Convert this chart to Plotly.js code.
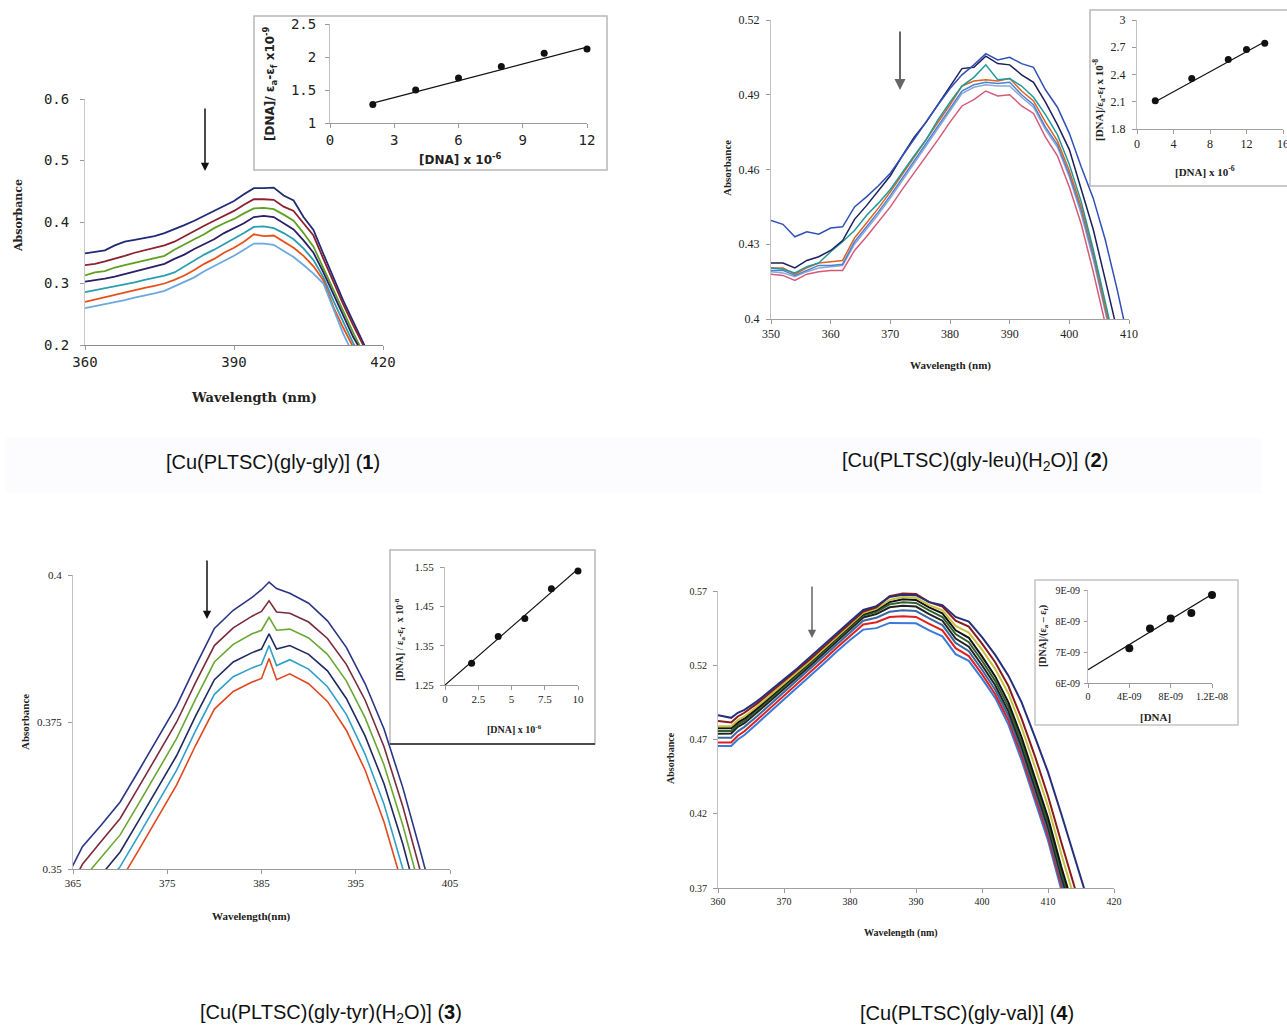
<!DOCTYPE html>
<html><head><meta charset="utf-8">
<script src="https://cdn.plot.ly/plotly-3.0.1.min.js"></script>
<style>html,body{margin:0;padding:0;background:#fff}#chart{width:1287px;height:1026px}</style>
</head><body><div id="chart"></div><script>
// ---------- Panel 1 : [Cu(PLTSC)(gly-gly)] ----------
const wl1 = [360,362,364,366,368,370,372,374,376,378,380,382,384,386,388,390,392,394,396,398,400,402,404,406,408,410,412,414,416,418];
const p1Navy   = [0.349,0.352,0.354,0.362,0.368,0.371,0.374,0.377,0.382,0.388,0.395,0.402,0.410,0.418,0.427,0.434,0.445,0.455,0.455,0.456,0.443,0.435,0.408,0.387,0.348,0.310,0.272,0.238,0.203,0.170];
const p1Maroon = [0.330,0.332,0.336,0.340,0.345,0.350,0.354,0.358,0.362,0.368,0.377,0.385,0.394,0.402,0.410,0.418,0.428,0.437,0.437,0.436,0.425,0.418,0.398,0.378,0.340,0.303,0.266,0.232,0.200,0.168];
const p1Green  = [0.313,0.318,0.320,0.326,0.330,0.334,0.338,0.341,0.345,0.355,0.364,0.372,0.380,0.390,0.398,0.405,0.414,0.422,0.423,0.421,0.412,0.402,0.382,0.360,0.325,0.290,0.254,0.220,0.188,0.160];
const p1Indigo = [0.303,0.305,0.308,0.311,0.315,0.320,0.324,0.328,0.332,0.340,0.347,0.356,0.364,0.372,0.382,0.390,0.398,0.408,0.410,0.408,0.398,0.388,0.370,0.350,0.318,0.283,0.248,0.213,0.185,0.155];
const p1Teal   = [0.286,0.289,0.292,0.295,0.298,0.302,0.306,0.309,0.313,0.318,0.328,0.338,0.347,0.355,0.364,0.372,0.382,0.392,0.393,0.390,0.382,0.372,0.357,0.338,0.310,0.272,0.236,0.203,0.175,0.150];
const p1Orange = [0.270,0.274,0.278,0.282,0.286,0.289,0.293,0.296,0.300,0.306,0.313,0.322,0.332,0.340,0.350,0.358,0.368,0.380,0.377,0.378,0.368,0.358,0.345,0.328,0.305,0.262,0.228,0.195,0.165,0.140];
const p1Light  = [0.260,0.263,0.266,0.270,0.273,0.277,0.280,0.284,0.288,0.295,0.302,0.310,0.320,0.328,0.337,0.345,0.355,0.365,0.365,0.363,0.353,0.343,0.330,0.316,0.300,0.258,0.218,0.185,0.160,0.135];
const p1Colors = ['#1f2a78','#8a2030','#5ea020','#2a1e68','#2a9eb0','#e8501a','#6aa8e0'];
// inset 1
const dna1 = [2,4,6,8,10,12];
const ratio1 = [1.28,1.50,1.68,1.855,2.055,2.12];
const fit1X = [2,12];
const fit1Y = [1.30,2.15];

// ---------- Panel 2 : [Cu(PLTSC)(gly-leu)(H2O)] ----------
const wl2 = [350,352,354,356,358,360,362,364,366,368,370,372,374,376,378,380,382,384,386,388,390,392,394,396,398,400,402,404,406,408,410];
const p2A = [0.4395,0.438,0.433,0.435,0.434,0.4365,0.437,0.445,0.449,0.4535,0.4585,0.4655,0.4725,0.479,0.486,0.4925,0.498,0.502,0.5065,0.504,0.505,0.5025,0.501,0.492,0.485,0.4745,0.461,0.4485,0.432,0.412,0.390];
const p2B = [0.4225,0.4225,0.4205,0.4235,0.425,0.4275,0.4315,0.440,0.4455,0.4515,0.4575,0.4655,0.473,0.479,0.486,0.493,0.5005,0.501,0.5055,0.5025,0.502,0.498,0.495,0.487,0.478,0.468,0.452,0.436,0.416,0.395,0.375];
const p2C = [0.4205,0.420,0.4185,0.421,0.4225,0.427,0.431,0.4355,0.4415,0.4465,0.452,0.4585,0.4655,0.472,0.480,0.487,0.4935,0.497,0.502,0.496,0.4965,0.4935,0.489,0.482,0.474,0.462,0.447,0.428,0.407,0.386,0.365];
const p2D = [0.4205,0.4205,0.418,0.4205,0.4225,0.423,0.4235,0.4325,0.4385,0.4445,0.451,0.458,0.465,0.4715,0.4785,0.486,0.4935,0.4955,0.496,0.4955,0.4965,0.4915,0.4875,0.479,0.4715,0.4595,0.445,0.427,0.405,0.384,0.363];
const p2E = [0.4195,0.4195,0.4175,0.4195,0.4215,0.4215,0.422,0.431,0.437,0.443,0.4495,0.4565,0.4635,0.470,0.477,0.4845,0.4915,0.494,0.495,0.4945,0.495,0.490,0.486,0.477,0.470,0.458,0.4435,0.4255,0.404,0.383,0.362];
const p2F = [0.419,0.4185,0.417,0.419,0.4205,0.421,0.4215,0.430,0.436,0.442,0.4485,0.4555,0.4625,0.469,0.476,0.4835,0.4905,0.493,0.494,0.4935,0.4935,0.489,0.485,0.476,0.469,0.457,0.442,0.424,0.403,0.382,0.361];
const p2G = [0.418,0.4175,0.4155,0.418,0.419,0.4195,0.4195,0.4275,0.433,0.439,0.445,0.452,0.4585,0.4655,0.472,0.479,0.4855,0.488,0.4915,0.4895,0.490,0.4855,0.4825,0.473,0.4655,0.453,0.438,0.419,0.399,0.378,0.357];
const p2Colors = ['#3050b8','#1c1f5a','#1f9a9a','#e0621b','#4a82d8','#8fa8d0','#d45a78'];
// inset 2
const dna2 = [2,6,10,12,14];
const ratio2 = [2.11,2.355,2.565,2.675,2.745];
const fit2X = [2,14];
const fit2Y = [2.10,2.76];
const xt2Vals = [0,4,8,12,16];

// ---------- Panel 3 : [Cu(PLTSC)(gly-tyr)(H2O)] ----------
const wl3 = [364,366,368,370,372,374,376,378,380,382,384,385,385.8,386.6,388,390,392,394,396,398,400,402,404];
const p3Navy   = [0.3475,0.3538,0.3575,0.3614,0.3668,0.3722,0.3778,0.3845,0.3909,0.3940,0.3962,0.3975,0.3988,0.3977,0.3969,0.3952,0.3922,0.3877,0.3815,0.3738,0.3638,0.3522,0.3400];
const p3Maroon = [0.3447,0.3508,0.3547,0.3586,0.3640,0.3694,0.3750,0.3817,0.3880,0.3910,0.3930,0.3938,0.3956,0.3937,0.3935,0.3920,0.3892,0.3848,0.3787,0.3708,0.3606,0.3488,0.3370];
const p3Green  = [0.3419,0.3482,0.3520,0.3558,0.3612,0.3666,0.3722,0.3789,0.3852,0.3882,0.3900,0.3906,0.3928,0.3906,0.3908,0.3893,0.3865,0.3820,0.3757,0.3677,0.3574,0.3455,0.3330];
const p3Indigo = [0.3390,0.3453,0.3490,0.3529,0.3583,0.3637,0.3693,0.3760,0.3822,0.3852,0.3868,0.3874,0.3900,0.3874,0.3880,0.3865,0.3837,0.3790,0.3726,0.3645,0.3542,0.3422,0.3300];
const p3Teal   = [0.3365,0.3428,0.3465,0.3504,0.3558,0.3612,0.3668,0.3735,0.3797,0.3827,0.3842,0.3848,0.3880,0.3846,0.3856,0.3840,0.3810,0.3763,0.3695,0.3610,0.3505,0.3390,0.3270];
const p3Orange = [0.3340,0.3403,0.3440,0.3479,0.3533,0.3587,0.3643,0.3710,0.3772,0.3802,0.3818,0.3824,0.3858,0.3822,0.3832,0.3815,0.3785,0.3736,0.3668,0.3580,0.3475,0.3360,0.3250];
const p3Colors = ['#2a3585','#7a2b3b','#6aa832','#1e2a5e','#30a0c8','#e0481e'];
// inset 3
const dna3 = [2,4,6,8,10];
const ratio3 = [1.305,1.373,1.419,1.495,1.540];
const fit3X = [0,10];
const fit3Y = [1.25,1.545];

// ---------- Panel 4 : [Cu(PLTSC)(gly-val)] ----------
const wl4 = [360,362,363,364,366,368,370,372,374,376,378,380,382,384,386,388,390,392,394,396,398,400,402,404,406,408,410,412,414,416];
const p4Navy   = [0.4864,0.4846,0.4880,0.4900,0.4960,0.5030,0.5105,0.5178,0.5255,0.5335,0.5415,0.5495,0.5572,0.5598,0.5660,0.5675,0.5672,0.5625,0.5605,0.5525,0.5494,0.5390,0.5270,0.5130,0.4950,0.4720,0.4480,0.4200,0.3920,0.3620];
const p4Maroon = [0.4824,0.4815,0.4855,0.4880,0.4945,0.5018,0.5092,0.5165,0.5242,0.5322,0.5402,0.5482,0.5562,0.5590,0.5665,0.5684,0.5680,0.5625,0.5595,0.5500,0.5460,0.5345,0.5220,0.5060,0.4840,0.4590,0.4320,0.4010,0.3710,0.3410];
const p4Yellow = [0.4790,0.4790,0.4830,0.4855,0.4925,0.5000,0.5075,0.5150,0.5228,0.5310,0.5392,0.5472,0.5552,0.5580,0.5640,0.5660,0.5655,0.5605,0.5570,0.5465,0.5420,0.5305,0.5175,0.5010,0.4780,0.4520,0.4250,0.3930,0.3640,0.3330];
const p4Black1 = [0.4775,0.4775,0.4815,0.4840,0.4912,0.4990,0.5065,0.5142,0.5220,0.5302,0.5385,0.5465,0.5545,0.5572,0.5625,0.5645,0.5640,0.5590,0.5550,0.5435,0.5385,0.5260,0.5125,0.4950,0.4715,0.4445,0.4175,0.3845,0.3555,0.3250];
const p4DkGreen= [0.4757,0.4758,0.4800,0.4825,0.4900,0.4978,0.5055,0.5132,0.5210,0.5292,0.5375,0.5455,0.5535,0.5560,0.5610,0.5625,0.5620,0.5570,0.5525,0.5410,0.5355,0.5230,0.5095,0.4920,0.4680,0.4410,0.4140,0.3810,0.3520,0.3220];
const p4Black2 = [0.4739,0.4740,0.4785,0.4810,0.4885,0.4965,0.5040,0.5120,0.5198,0.5280,0.5362,0.5442,0.5522,0.5545,0.5590,0.5600,0.5595,0.5545,0.5500,0.5380,0.5325,0.5200,0.5065,0.4890,0.4650,0.4380,0.4110,0.3780,0.3490,0.3190];
const p4Steel  = [0.4712,0.4712,0.4755,0.4785,0.4860,0.4940,0.5015,0.5095,0.5175,0.5258,0.5340,0.5420,0.5500,0.5520,0.5560,0.5570,0.5565,0.5515,0.5470,0.5350,0.5295,0.5170,0.5035,0.4860,0.4620,0.4350,0.4080,0.3750,0.3460,0.3160];
const p4Red    = [0.4679,0.4680,0.4725,0.4755,0.4835,0.4915,0.4990,0.5070,0.5150,0.5235,0.5318,0.5395,0.5475,0.5490,0.5525,0.5530,0.5525,0.5478,0.5435,0.5315,0.5262,0.5140,0.5005,0.4830,0.4590,0.4320,0.4050,0.3720,0.3430,0.3130];
const p4Blue   = [0.4656,0.4656,0.4700,0.4730,0.4810,0.4890,0.4965,0.5045,0.5125,0.5210,0.5293,0.5370,0.5440,0.5450,0.5485,0.5485,0.5482,0.5435,0.5395,0.5275,0.5230,0.5110,0.4980,0.4800,0.4560,0.4290,0.4020,0.3690,0.3400,0.3100];
const p4Colors = ['#26307a','#8b1a1a','#c8c040','#111111','#2f5f2f','#222222','#3a6aa0','#e02020','#3a7ad8'];
// inset 4
const dna4 = [4e-9,6e-9,8e-9,1e-8,1.2e-8];
const ratio4 = [7.12e-9,7.76e-9,8.08e-9,8.26e-9,8.84e-9];
const fit4X = [0,1.2e-8];
const fit4Y = [6.43e-9,8.86e-9];

// tick labels
const xt4Vals = [0,4e-9,8e-9,1.2e-8];
const xt4Text = ['0','4E-09','8E-09','1.2E-08'];
const yt4Vals = [6e-9,7e-9,8e-9,9e-9];
const yt4Text = ['6E-09','7E-09','8E-09','9E-09'];

const captions = [
  '[Cu(PLTSC)(gly-gly)] (<b>1</b>)',
  '[Cu(PLTSC)(gly-leu)(H<sub>2</sub>O)] (<b>2</b>)',
  '[Cu(PLTSC)(gly-tyr)(H<sub>2</sub>O)] (<b>3</b>)',
  '[Cu(PLTSC)(gly-val)] (<b>4</b>)'
];

// ---------- build ----------
const W = 1287, H = 1026;
const fx = p => p / W;
const fy = p => 1 - p / H;
const dX = (a, b) => [a / W, b / W];
const dY = (top, bottom) => [1 - bottom / H, 1 - top / H];

const traces = [];
function addCurves(x, ys, colors, width, ax) {
  ys.forEach((y, i) => traces.push({
    x: x, y: y, type: 'scatter', mode: 'lines', xaxis: 'x' + ax, yaxis: 'y' + ax,
    line: {color: colors[i], width: width}, hoverinfo: 'skip', showlegend: false
  }));
}
function addInset(x, y, fx_, fy_, ax, msize) {
  traces.push({x: fx_, y: fy_, type: 'scatter', mode: 'lines', xaxis: 'x' + ax, yaxis: 'y' + ax,
    line: {color: '#111', width: 1.2}, hoverinfo: 'skip', showlegend: false, cliponaxis: false});
  traces.push({x: x, y: y, type: 'scatter', mode: 'markers', xaxis: 'x' + ax, yaxis: 'y' + ax,
    marker: {color: '#111', size: msize, symbol: 'circle'}, hoverinfo: 'skip', showlegend: false, cliponaxis: false});
}
addCurves(wl1, [p1Navy,p1Maroon,p1Green,p1Indigo,p1Teal,p1Orange,p1Light], p1Colors, 1.8, '');
addInset(dna1, ratio1, fit1X, fit1Y, '2', 7);
addCurves(wl2, [p2G,p2F,p2E,p2D,p2C,p2B,p2A], [p2Colors[6],p2Colors[5],p2Colors[4],p2Colors[3],p2Colors[2],p2Colors[1],p2Colors[0]], 1.5, '3');
addInset(dna2, ratio2, fit2X, fit2Y, '4', 7);
addCurves(wl3, [p3Navy,p3Maroon,p3Green,p3Indigo,p3Teal,p3Orange], p3Colors, 1.6, '5');
addInset(dna3, ratio3, fit3X, fit3Y, '6', 7);
addCurves(wl4, [p4Blue,p4Red,p4Steel,p4Black2,p4DkGreen,p4Black1,p4Yellow,p4Maroon,p4Navy],
  [p4Colors[8],p4Colors[7],p4Colors[6],p4Colors[5],p4Colors[4],p4Colors[3],p4Colors[2],p4Colors[1],p4Colors[0]], 2, '7');
addInset(dna4, ratio4, fit4X, fit4Y, '8', 8);

const MONO = 'DejaVu Sans Mono, monospace';
const SERIF = 'Liberation Serif, Times New Roman, serif';
function axis(domain, range, extra, anchor, font, lineColor) {
  return Object.assign({
    domain: domain, range: range, anchor: anchor, showgrid: false, zeroline: false,
    showline: true, linecolor: lineColor || '#9a9a9a', linewidth: 1,
    ticks: 'outside', ticklen: 4, tickcolor: '#9a9a9a', tickwidth: 1,
    tickfont: font, fixedrange: true
  }, extra);
}
const f1 = {family: MONO, size: 14, color: '#222'};
const fS12 = {family: SERIF, size: 12, color: '#222'};
const fS11 = {family: SERIF, size: 11, color: '#222'};
const fS10 = {family: SERIF, size: 10, color: '#222'};

const layout = {
  width: W, height: H, margin: {l: 0, r: 0, t: 0, b: 0},
  paper_bgcolor: '#ffffff', plot_bgcolor: 'rgba(0,0,0,0)', showlegend: false,
  xaxis:  axis(dX(85,383),  [360,420], {dtick: 30, tick0: 360}, 'y', f1, '#8c8c8c'),
  yaxis:  axis(dY(99,345),  [0.2,0.6], {dtick: 0.1, tick0: 0.2, ticklabelstandoff: 8}, 'x', f1, '#c8c8c8'),
  xaxis2: axis(dX(330,587), [0,12], {dtick: 3, tick0: 0}, 'y2', f1, '#9a9a9a'),
  yaxis2: axis(dY(24,123),  [1,2.5], {dtick: 0.5, tick0: 1, ticklabelstandoff: 6}, 'x2', f1, '#c0c0c0'),
  xaxis3: axis(dX(771,1129), [350,410], {dtick: 10, tick0: 350}, 'y3', fS12, '#a0a0a0'),
  yaxis3: axis(dY(20,319),  [0.4,0.52], {dtick: 0.03, tick0: 0.4, ticklabelstandoff: 4}, 'x3', fS12, '#c0c0c0'),
  xaxis4: axis(dX(1137,1283), [0,16], {tickmode: 'array', tickvals: xt2Vals, ticklabeloverflow: 'allow'}, 'y4', fS12, '#a0a0a0'),
  yaxis4: axis(dY(20,129),  [1.8,3], {dtick: 0.3, tick0: 1.8, ticklabelstandoff: 4}, 'x4', fS12, '#c0c0c0'),
  xaxis5: axis(dX(73,450),  [365,405], {dtick: 10, tick0: 365}, 'y5', fS11, '#9a9a9a'),
  yaxis5: axis(dY(575,869), [0.35,0.4], {dtick: 0.025, tick0: 0.35, ticklabelstandoff: 4}, 'x5', fS11, '#c0c0c0'),
  xaxis6: axis(dX(445,578), [0,10], {dtick: 2.5, tick0: 0}, 'y6', fS11, '#9a9a9a'),
  yaxis6: axis(dY(567,685), [1.25,1.55], {dtick: 0.1, tick0: 1.25, ticklabelstandoff: 4}, 'x6', fS11, '#c0c0c0'),
  xaxis7: axis(dX(718,1114), [360,420], {dtick: 10, tick0: 360}, 'y7', fS10, '#a0a0a0'),
  yaxis7: axis(dY(591,888), [0.37,0.57], {dtick: 0.05, tick0: 0.37, ticklabelstandoff: 4}, 'x7', fS10, '#c0c0c0'),
  xaxis8: axis(dX(1088,1212), [0,1.2e-8], {tickmode: 'array', tickvals: xt4Vals, ticktext: xt4Text}, 'y8', fS10, '#9a9a9a'),
  yaxis8: axis(dY(590,683), [6e-9,9e-9], {tickmode: 'array', tickvals: yt4Vals, ticktext: yt4Text, ticklabelstandoff: 2, ticklen: 3}, 'x8', fS10, '#c0c0c0'),
  shapes: [
    {type: 'rect', xref: 'paper', yref: 'paper', x0: fx(6), x1: fx(1262), y0: fy(493), y1: fy(438), fillcolor: '#fcfcfe', line: {width: 0}, layer: 'below'},
    {type: 'rect', xref: 'paper', yref: 'paper', x0: fx(254), x1: fx(607), y0: fy(170), y1: fy(16), fillcolor: '#ffffff', line: {color: '#b8b8b8', width: 1.5}, layer: 'below'},
    {type: 'rect', xref: 'paper', yref: 'paper', x0: fx(1090), x1: fx(1292), y0: fy(186), y1: fy(10), fillcolor: '#ffffff', line: {color: '#b8b8b8', width: 1.5}, layer: 'below'},
    {type: 'rect', xref: 'paper', yref: 'paper', x0: fx(390), x1: fx(595), y0: fy(744), y1: fy(550), fillcolor: '#ffffff', line: {color: '#b8b8b8', width: 1.5}, layer: 'below'},
    {type: 'line', xref: 'paper', yref: 'paper', x0: fx(390), x1: fx(595), y0: fy(744), y1: fy(744), line: {color: '#222', width: 1.5}},
    {type: 'rect', xref: 'paper', yref: 'paper', x0: fx(1035), x1: fx(1238), y0: fy(725), y1: fy(580), fillcolor: '#ffffff', line: {color: '#c4c4c4', width: 1.5}, layer: 'below'}
  ],
  annotations: []
};

const A = layout.annotations;
function txt(x, y, text, font, angle) {
  A.push({xref: 'paper', yref: 'paper', x: fx(x), y: fy(y), text: text, showarrow: false,
    font: font, textangle: angle || 0, xanchor: 'center', yanchor: 'middle'});
}
function arrow(x, yHead, yTail, color, width) {
  A.push({xref: 'paper', yref: 'paper', x: fx(x), y: fy(yHead), ax: 0, ay: -(yHead - yTail), text: '',
    showarrow: true, arrowhead: 2, arrowsize: 1.1, arrowwidth: width, arrowcolor: color});
}
const bSerif = s => ({family: 'DejaVu Serif, serif', size: s, color: '#222', weight: 'bold'});
const bSerifL = s => ({family: SERIF, size: s, color: '#222', weight: 'bold'});
const bSans = s => ({family: 'DejaVu Sans, sans-serif', size: s, color: '#222', weight: 'bold'});

// panel 1 titles
txt(254, 398, '<b>Wavelength (nm)</b>', bSerif(13));
txt(18, 216, '<b>Absorbance</b>', bSerif(11), -90);
txt(460, 159, '<b>[DNA] x 10<sup>-6</sup></b>', bSans(12));
txt(270, 84, '<b>[DNA]/ ε<sub>a</sub>-ε<sub>f</sub> x10<sup>-9</sup></b>', bSans(12), -90);
// panel 2 titles
txt(950, 365, '<b>Wavelength (nm)</b>', bSerifL(11));
txt(727, 168, '<b>Absorbance</b>', bSerifL(11), -90);
txt(1205, 171, '<b>[DNA] x 10<sup>-6</sup></b>', bSerifL(11));
txt(1099, 100, '<b>[DNA]/ε<sub>a</sub>-ε<sub>f</sub> x 10<sup>-8</sup></b>', bSerifL(11), -90);
// panel 3 titles
txt(251, 916, '<b>Wavelength(nm)</b>', bSerifL(11));
txt(25, 722, '<b>Absorbance</b>', bSerifL(11), -90);
txt(514, 729, '<b>[DNA] x 10<sup>-6</sup></b>', bSerifL(10));
txt(400, 640, '<b>[DNA] / ε<sub>a</sub>-ε<sub>f</sub>  x 10<sup>-8</sup></b>', bSerifL(10), -90);
// panel 4 titles
txt(901, 933, '<b>Wavelength (nm)</b>', bSerifL(10));
txt(670, 758, '<b>Absorbance</b>', bSerifL(10), -90);
txt(1155, 717, '<b>[DNA]</b>', bSerifL(11));
txt(1043, 636, '<b>[DNA]/(ε<sub>a</sub> – ε<sub>f</sub>)</b>', bSerifL(10), -90);

// captions
const capFont = {family: 'Liberation Sans Narrow, Arial Narrow, Liberation Sans, sans-serif', size: 20, color: '#111'};
txt(273, 462, captions[0], capFont);
txt(975, 462, captions[1], capFont);
txt(331, 1013, captions[2], capFont);
txt(967, 1013, captions[3], capFont);

// arrows
arrow(205, 171, 107, '#111', 1.5);
arrow(900, 90, 30, '#666', 2);
arrow(207, 619, 559, '#111', 1.5);
arrow(812, 638, 585, '#666', 1.5);

Plotly.newPlot('chart', traces, layout, {staticPlot: true, displayModeBar: false});
</script></body></html>
